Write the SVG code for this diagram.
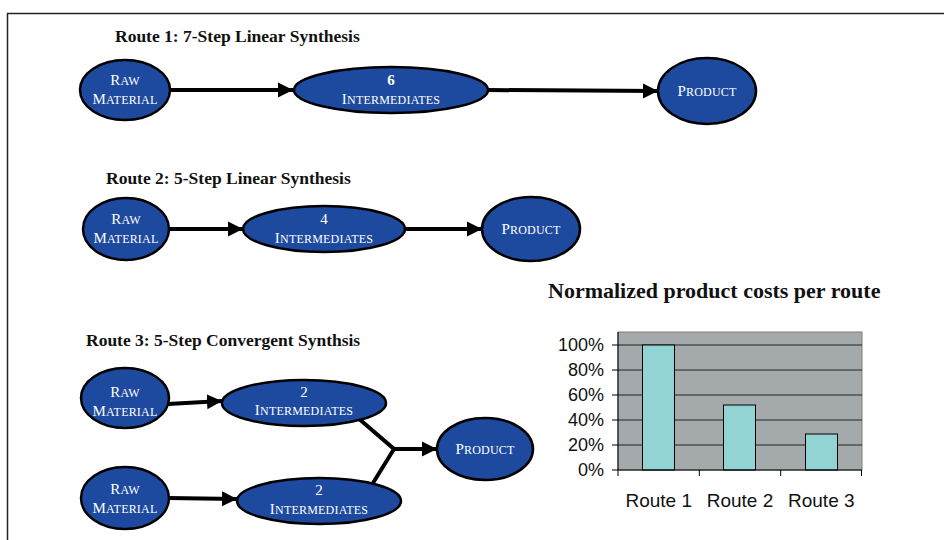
<svg xmlns="http://www.w3.org/2000/svg" width="944" height="540" viewBox="0 0 944 540">
  <style>
    .title { font-family: "Liberation Serif", "Times New Roman", serif; font-weight: bold; font-size: 17.5px; fill: #111; }
    .node ellipse { fill: #1D4A9E; stroke: #000; stroke-width: 2.5; }
    .lbl { font-family: "Liberation Serif", "Times New Roman", serif; fill: #fff; text-anchor: middle; font-size: 12px; letter-spacing: 0.2px; }
    .cap { font-size: 15px; }
    .num { font-size: 15px; }
    .edge { stroke: #000; stroke-width: 4; fill: none; }
    .axis { font-family: "Liberation Sans", Arial, sans-serif; font-size: 18px; fill: #111; }
    .xlab { font-size: 19px; }
    .grid { stroke: #222; stroke-width: 1; }
  </style>
  <defs>
    <marker id="arrow" markerUnits="userSpaceOnUse" markerWidth="16" markerHeight="16" viewBox="0 0 16 16" refX="15" refY="8" orient="auto">
      <path d="M0,0.5 L15,8 L0,15.5 Z" fill="#000"/>
    </marker>
  </defs>

  <rect width="944" height="540" fill="#fff"/>
  <!-- frame: top and left rules -->
  <path d="M7,13.5 H944 M7.5,13 V540" stroke="#222" stroke-width="1.5" fill="none"/>

  <!-- section headings -->
  <text class="title" x="115" y="42">Route 1: 7-Step Linear Synthesis</text>
  <text class="title" x="106" y="184">Route 2: 5-Step Linear Synthesis</text>
  <text class="title" x="86" y="346">Route 3: 5-Step Convergent Synthsis</text>

  <!-- connectors -->
  <g id="connectors">
    <line class="edge" x1="170" y1="90" x2="293" y2="90" marker-end="url(#arrow)"/>
    <line class="edge" x1="488" y1="90" x2="658" y2="91" marker-end="url(#arrow)"/>
    <line class="edge" x1="168" y1="229" x2="243" y2="229" marker-end="url(#arrow)"/>
    <line class="edge" x1="405" y1="229" x2="482" y2="229" marker-end="url(#arrow)"/>
    <line class="edge" x1="168" y1="404" x2="222" y2="401" marker-end="url(#arrow)"/>
    <line class="edge" x1="168" y1="498" x2="237" y2="499" marker-end="url(#arrow)"/>
    <polyline class="edge" points="358,418 394,449 373,483" stroke-linejoin="miter"/>
    <line class="edge" x1="394" y1="449" x2="437" y2="449" marker-end="url(#arrow)"/>
  </g>

  <!-- Route 1 -->
  <g id="r1-raw" class="node">
    <ellipse cx="125" cy="90" rx="45" ry="30"/>
    <text class="lbl" x="125" y="85"><tspan class="cap">R</tspan>AW</text>
    <text class="lbl" x="125" y="104"><tspan class="cap">M</tspan>ATERIAL</text>
  </g>
  <g id="r1-int" class="node">
    <ellipse cx="391" cy="90" rx="97" ry="23"/>
    <text class="lbl num" x="391" y="85" font-weight="bold">6</text>
    <text class="lbl" x="391" y="104"><tspan class="cap">I</tspan>NTERMEDIATES</text>
  </g>
  <g id="r1-product" class="node">
    <ellipse cx="707" cy="91" rx="49" ry="33"/>
    <text class="lbl" x="707" y="96"><tspan class="cap">P</tspan>RODUCT</text>
  </g>

  <!-- Route 2 -->
  <g id="r2-raw" class="node">
    <ellipse cx="126" cy="229" rx="43" ry="31"/>
    <text class="lbl" x="126" y="224"><tspan class="cap">R</tspan>AW</text>
    <text class="lbl" x="126" y="243"><tspan class="cap">M</tspan>ATERIAL</text>
  </g>
  <g id="r2-int" class="node">
    <ellipse cx="324" cy="229" rx="81" ry="23"/>
    <text class="lbl num" x="324" y="224">4</text>
    <text class="lbl" x="324" y="243"><tspan class="cap">I</tspan>NTERMEDIATES</text>
  </g>
  <g id="r2-product" class="node">
    <ellipse cx="531" cy="229" rx="49" ry="32"/>
    <text class="lbl" x="531" y="234"><tspan class="cap">P</tspan>RODUCT</text>
  </g>

  <!-- Route 3 -->
  <g id="r3-raw-a" class="node">
    <ellipse cx="125" cy="398" rx="44" ry="30"/>
    <text class="lbl" x="125" y="397"><tspan class="cap">R</tspan>AW</text>
    <text class="lbl" x="125" y="416"><tspan class="cap">M</tspan>ATERIAL</text>
  </g>
  <g id="r3-int-a" class="node">
    <ellipse cx="304" cy="403" rx="82" ry="23"/>
    <text class="lbl num" x="304" y="397">2</text>
    <text class="lbl" x="304" y="415"><tspan class="cap">I</tspan>NTERMEDIATES</text>
  </g>
  <g id="r3-raw-b" class="node">
    <ellipse cx="125" cy="498" rx="44" ry="31"/>
    <text class="lbl" x="125" y="494"><tspan class="cap">R</tspan>AW</text>
    <text class="lbl" x="125" y="513"><tspan class="cap">M</tspan>ATERIAL</text>
  </g>
  <g id="r3-int-b" class="node">
    <ellipse cx="319" cy="501" rx="82" ry="23"/>
    <text class="lbl num" x="319" y="495">2</text>
    <text class="lbl" x="319" y="514"><tspan class="cap">I</tspan>NTERMEDIATES</text>
  </g>
  <g id="r3-product" class="node">
    <ellipse cx="485" cy="449" rx="48" ry="31"/>
    <text class="lbl" x="485" y="454"><tspan class="cap">P</tspan>RODUCT</text>
  </g>

  <!-- cost chart -->
  <g id="chart">
    <text x="548" y="298" font-family="'Liberation Serif', 'Times New Roman', serif" font-weight="bold" font-size="22" fill="#111">Normalized product costs per route</text>
    <rect x="618" y="332" width="244" height="138" fill="#A4A9AC" stroke="#7d7d7d" stroke-width="1"/>
    <g class="grid">
      <line x1="618" y1="345" x2="862" y2="345"/>
      <line x1="618" y1="370" x2="862" y2="370"/>
      <line x1="618" y1="395" x2="862" y2="395"/>
      <line x1="618" y1="420" x2="862" y2="420"/>
      <line x1="618" y1="445" x2="862" y2="445"/>
    </g>
    <g fill="#92D3D3" stroke="#000" stroke-width="1">
      <rect x="642.5" y="345" width="32" height="125"/>
      <rect x="723.5" y="405" width="32" height="65"/>
      <rect x="805.5" y="434" width="32" height="36"/>
    </g>
    <g stroke="#000" stroke-width="1">
      <line x1="618" y1="332" x2="618" y2="470"/>
      <line x1="612" y1="470" x2="862" y2="470"/>
      <line x1="612" y1="345" x2="618" y2="345"/>
      <line x1="612" y1="370" x2="618" y2="370"/>
      <line x1="612" y1="395" x2="618" y2="395"/>
      <line x1="612" y1="420" x2="618" y2="420"/>
      <line x1="612" y1="445" x2="618" y2="445"/>
      <line x1="618" y1="470" x2="618" y2="476"/>
      <line x1="699.3" y1="470" x2="699.3" y2="476"/>
      <line x1="780.7" y1="470" x2="780.7" y2="476"/>
      <line x1="861.5" y1="470" x2="861.5" y2="476"/>
    </g>
    <g class="axis" text-anchor="end">
      <text x="604" y="351">100%</text>
      <text x="604" y="376">80%</text>
      <text x="604" y="401">60%</text>
      <text x="604" y="426">40%</text>
      <text x="604" y="451">20%</text>
      <text x="604" y="476">0%</text>
    </g>
    <g class="axis xlab" text-anchor="middle">
      <text x="658.7" y="507">Route 1</text>
      <text x="740" y="507">Route 2</text>
      <text x="821.3" y="507">Route 3</text>
    </g>
  </g>
</svg>
